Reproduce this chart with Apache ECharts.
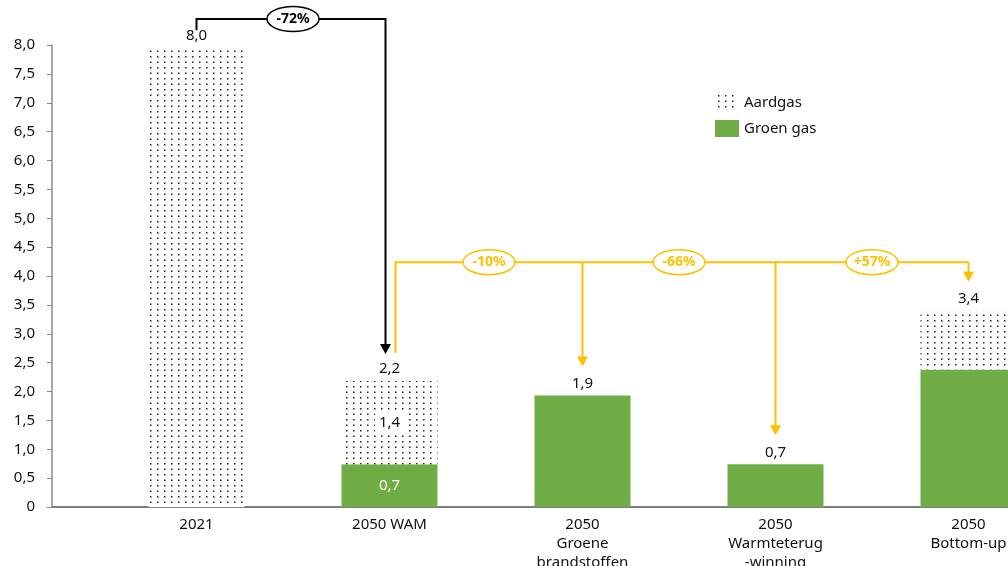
<!DOCTYPE html>
<html>
<head>
<meta charset="utf-8">
<script src="https://cdn.jsdelivr.net/npm/echarts@6/dist/echarts.min.js"></script>
<style>
  html, body { margin: 0; padding: 0; background: #fff; }
  #chart { width: 1008px; height: 566px; }
</style>
</head>
<body>
<div id="chart"></div>
<script>
// Gasverbruik per scenario (aardgas + groen gas)
const categories = ['2021', '2050 WAM', '2050\nGroene\nbrandstoffen', '2050\nWarmteterug\n-winning', '2050\nBottom-up'];
const aardgas   = [7.96, 1.44, 0, 0, 1.02];
const groenGas  = [0, 0.74, 1.93, 0.74, 2.38];
const yTicks    = [0, 0.5, 1, 1.5, 2, 2.5, 3, 3.5, 4, 4.5, 5, 5.5, 6, 6.5, 7, 7.5, 8];

// Percentage changes between scenarios
const changeBlack  = { from: 0, to: 1, text: '-72%' };
const changeOrange = [
  { from: 1, to: 2, text: '-10%' },
  { from: 2, to: 3, text: '-66%' },
  { from: 3, to: 4, text: '+57%' }
];

const totals = aardgas.map((v, i) => +(v + groenGas[i]).toFixed(2));
const fmt = v => v === 0 ? '0' : v.toFixed(1).replace('.', ',');

const FONT = 'Noto Sans';
const GREEN = '#70AD47';
const ORANGE = '#FFC000';
const INK = '#111';

// Dotted fill for natural gas
function dotPattern() {
  const c = document.createElement('canvas');
  c.width = 7; c.height = 11;
  const ctx = c.getContext('2d');
  ctx.fillStyle = '#fff';
  ctx.fillRect(0, 0, 7, 11);
  ctx.fillStyle = '#222';
  ctx.fillRect(3, 1, 1.5, 1.5);
  ctx.fillRect(3, 6.5, 1.5, 1.5);
  return c;
}
const dots = { image: dotPattern(), repeat: 'repeat' };

const chart = echarts.init(document.getElementById('chart'), null, { renderer: 'canvas' });

const option = {
  animation: false,
  backgroundColor: '#fff',
  textStyle: { fontFamily: FONT },
  grid: { left: 100, right: -57, top: 45, bottom: 59, outerBoundsMode: 'none', containLabel: false },
  legend: {
    data: ['Aardgas', 'Groen gas'],
    orient: 'vertical',
    left: 710, top: 89,
    itemWidth: 24, itemHeight: 17, itemGap: 9,
    textStyle: { fontFamily: FONT, fontSize: 15, color: INK },
    icon: 'rect'
  },
  xAxis: {
    type: 'category',
    data: categories,
    axisLine: { lineStyle: { color: '#555', width: 1.5 } },
    axisTick: { show: false },
    axisLabel: { fontFamily: FONT, fontSize: 15, color: INK, margin: 8, lineHeight: 19, interval: 0 }
  },
  yAxis: {
    type: 'value',
    min: 0, max: 8, interval: 0.5,
    offset: 48,
    splitLine: { show: false },
    axisLine: { show: true, lineStyle: { color: '#888', width: 1.5 } },
    axisTick: { show: true, length: 5, lineStyle: { color: '#888' } },
    axisLabel: {
      fontFamily: FONT, fontSize: 15, color: INK, margin: 17,
      formatter: v => yTicks.includes(v) ? fmt(v) : ''
    }
  },
  series: [
    {
      name: 'Groen gas',
      type: 'bar',
      stack: 'gas',
      barWidth: 96,
      itemStyle: { color: GREEN },
      data: groenGas.map((v, i) => ({
        value: v,
        label: {
          show: i === 1,
          position: 'inside',
          color: '#fff',
          fontFamily: FONT, fontSize: 15,
          formatter: p => fmt(p.value)
        }
      }))
    },
    {
      name: 'Aardgas',
      type: 'bar',
      stack: 'gas',
      barWidth: 96,
      itemStyle: { color: dots },
      data: aardgas.map((v, i) => ({
        value: v,
        label: {
          show: i === 1,
          position: 'inside',
          color: INK,
          backgroundColor: '#fff',
          padding: [2, 4],
          fontFamily: FONT, fontSize: 15,
          formatter: p => fmt(p.value)
        }
      }))
    },
    {
      name: 'Totaal',
      type: 'scatter',
      symbolSize: 1,
      silent: true,
      itemStyle: { color: 'rgba(0,0,0,0)', opacity: 1 },
      data: totals,
      label: {
        show: true,
        position: 'top',
        distance: 4,
        color: INK,
        opacity: 1,
        fontFamily: FONT, fontSize: 15,
        formatter: p => fmt(p.value)
      }
    }
  ]
};

chart.setOption(option);

// Annotation arrows, placed through the chart's own coordinate system
function px(i, v) { return chart.convertToPixel({ gridIndex: 0 }, [i, v]); }

function arrowHead(x, y, color) {
  return {
    type: 'polygon', z: 20,
    shape: { points: [[x - 5.5, y - 10], [x + 5.5, y - 10], [x, y]] },
    style: { fill: color }
  };
}
function badge(x, y, text, color) {
  return [
    { type: 'ellipse', z: 21, shape: { cx: x, cy: y, rx: 26, ry: 12.5 },
      style: { fill: '#fff', stroke: color, lineWidth: 1.5 } },
    { type: 'text', z: 22, x: x, y: y,
      style: { text: text, fill: color, font: 'bold 14px "' + FONT + '"', align: 'center', verticalAlign: 'middle' } }
  ];
}

const els = [];
// Black bracket: 2021 -> 2050 WAM
{
  const a = px(changeBlack.from, totals[changeBlack.from]);
  const b = px(changeBlack.to, totals[changeBlack.to]);
  const level = px(0, 8.45)[1];
  const xs = a[0], xe = b[0] - 4;
  const tip = b[1] - 27;
  els.push({ type: 'polyline', z: 20,
    shape: { points: [[xs, a[1] - 17], [xs, level], [xe, level], [xe, tip - 8]] },
    style: { stroke: '#000', lineWidth: 2, fill: null } });
  els.push(arrowHead(xe, tip, '#000'));
  els.push(...badge((xs + xe) / 2 + 2, level, changeBlack.text, '#000'));
}
// Orange bracket: 2050 WAM -> other 2050 scenarios
{
  const level = px(0, 4.24)[1];
  const start = px(1, totals[1]);
  const xs = start[0] + 6;
  const lastX = px(changeOrange[changeOrange.length - 1].to, 0)[0];
  els.push({ type: 'polyline', z: 20,
    shape: { points: [[xs, start[1] - 28], [xs, level], [lastX, level]] },
    style: { stroke: ORANGE, lineWidth: 2, fill: null } });
  changeOrange.forEach((c, k) => {
    const p = px(c.to, totals[c.to]);
    const tip = p[1] - 29;
    els.push({ type: 'line', z: 20,
      shape: { x1: p[0], y1: level, x2: p[0], y2: tip - 8 },
      style: { stroke: ORANGE, lineWidth: 2 } });
    els.push(arrowHead(p[0], tip, ORANGE));
    const fromX = k === 0 ? xs : px(c.from, 0)[0];
    els.push(...badge((fromX + p[0]) / 2, level, c.text, ORANGE));
  });
}
// Base line continues under the offset value axis
{
  const p0 = px(0, 0), p1 = px(1, 0);
  const left = p0[0] - (p1[0] - p0[0]) / 2;
  els.push({ type: 'line', z: 5,
    shape: { x1: left - 48, y1: p0[1], x2: left, y2: p0[1] },
    style: { stroke: '#555', lineWidth: 1.5 } });
}

chart.setOption({ graphic: els });
</script>
</body>
</html>
